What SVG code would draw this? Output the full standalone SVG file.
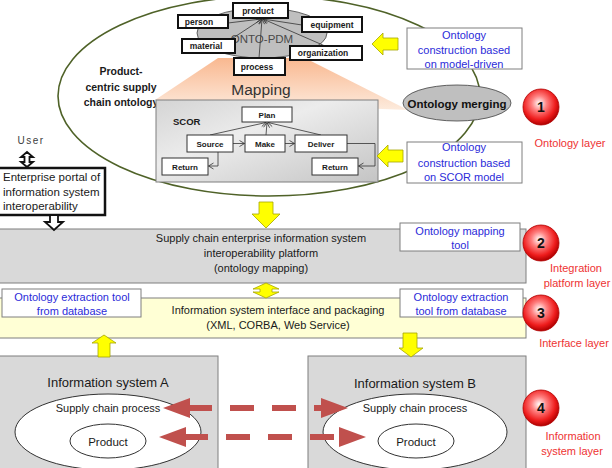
<svg xmlns="http://www.w3.org/2000/svg" width="612" height="468" viewBox="0 0 612 468">
<defs>
<style>
text{font-family:"Liberation Sans",Arial,sans-serif;}
.blk{font-size:11px;fill:#1a1a1a;text-anchor:middle;}
.blue{font-size:11px;fill:#2b2bd9;text-anchor:middle;}
.red{font-size:11px;fill:#ee3333;text-anchor:middle;}
.sb{font-size:8.5px;font-weight:bold;fill:#1a1a1a;text-anchor:middle;}
.sc{font-size:8px;font-weight:bold;fill:#1a1a1a;text-anchor:middle;}
.num{font-size:14px;font-weight:bold;fill:#111;text-anchor:middle;}
.tb{fill:#fff;stroke:#111;stroke-width:2;}
.sbox{fill:#fff;stroke:#333;stroke-width:1;}
.wbox{fill:#fff;stroke:#7f7f7f;stroke-width:1;}
.yel{fill:#ffff00;stroke:#a6a600;stroke-width:0.8;}
.hol{fill:#fff;stroke:#111;stroke-width:1.8;}
.ln{fill:none;stroke:#333;stroke-width:0.8;}
.rd{stroke:#c0504d;stroke-width:6;stroke-dasharray:24 18;fill:none;}
.rh{fill:#c0504d;}
.circ{fill:url(#rg);stroke:#b00000;stroke-width:0.8;}
</style>
<radialGradient id="rg" cx="0.45" cy="0.4" r="0.6">
<stop offset="0" stop-color="#ffffff"/>
<stop offset="0.35" stop-color="#ff8080"/>
<stop offset="0.75" stop-color="#ee1c1c"/>
<stop offset="1" stop-color="#b00000"/>
</radialGradient>
<linearGradient id="sg" x1="0" y1="0" x2="0" y2="1">
<stop offset="0" stop-color="#f9b890"/>
<stop offset="1" stop-color="#fdebdd"/>
</linearGradient>
<linearGradient id="gg" x1="0" y1="0" x2="1" y2="1">
<stop offset="0" stop-color="#d4d4d4"/>
<stop offset="0.4" stop-color="#ececec"/>
<stop offset="1" stop-color="#c4c4c4"/>
</linearGradient>
<marker id="oa" markerWidth="8" markerHeight="8" refX="6" refY="4" orient="auto" markerUnits="userSpaceOnUse">
<path d="M1,1 L6,4 L1,7" fill="none" stroke="#333" stroke-width="0.8"/>
</marker>
</defs>

<!-- big ontology ellipse -->
<g id="ontology-area">
<ellipse cx="269" cy="96" rx="211" ry="100" fill="#fff" stroke="#4f6228" stroke-width="1.6"/>
<polygon points="218,58 305,58 408,110 155,100" fill="url(#sg)"/>
<text x="261" y="95" style="font-size:15.5px;fill:#333;text-anchor:middle;">Mapping</text>
<text x="121" y="75" style="font-size:10.5px;font-weight:bold;fill:#1a1a1a;text-anchor:middle;">Product-</text>
<text x="121" y="91" style="font-size:10.5px;font-weight:bold;fill:#1a1a1a;text-anchor:middle;">centric supply</text>
<text x="121" y="106" style="font-size:10.5px;font-weight:bold;fill:#1a1a1a;text-anchor:middle;">chain ontology</text>
</g>

<!-- ONTO-PDM -->
<g id="onto-pdm">
<ellipse cx="262" cy="33" rx="65" ry="25" fill="#bfbfbf" stroke="#404040" stroke-width="0.8"/>
<text x="262" y="43" style="font-size:11.5px;fill:#4a4a4a;text-anchor:middle;">ONTO-PDM</text>
<g class="pdm-lines">
<line class="ln" x1="228" y1="23" x2="261" y2="19" marker-end="url(#oa)"/>
<line class="ln" x1="302" y1="25" x2="263" y2="19" marker-end="url(#oa)"/>
<line class="ln" x1="325" y1="46" x2="263" y2="19" marker-end="url(#oa)"/>
<line class="ln" x1="230" y1="40" x2="262" y2="19" marker-end="url(#oa)"/>
<line class="ln" x1="259" y1="58" x2="262" y2="19" marker-end="url(#oa)"/>
</g>
</g>
<g id="pdm-product"><rect class="tb" x="233" y="3" width="55" height="15"/><text class="sb" x="258" y="13.5">product</text></g>
<g id="pdm-person"><rect class="tb" x="178" y="15" width="50" height="13"/><text class="sb" x="199" y="24.5">person</text></g>
<g id="pdm-equipment"><rect class="tb" x="302" y="17" width="60" height="15"/><text class="sb" x="332" y="27.5">equipment</text></g>
<g id="pdm-material"><rect class="tb" x="182" y="39" width="53" height="14"/><text class="sb" x="206" y="49">material</text></g>
<g id="pdm-organization"><rect class="tb" x="290" y="46" width="72" height="14"/><text class="sb" x="323" y="56">organization</text></g>
<g id="pdm-process"><rect class="tb" x="234" y="58" width="51" height="17"/><text class="sb" x="257" y="69.5">process</text></g>

<!-- SCOR -->
<g id="scor">
<rect x="156" y="100" width="222" height="82" fill="url(#gg)" stroke="#7f7f7f" stroke-width="1"/>
<text x="173" y="125" style="font-size:9.5px;font-weight:bold;fill:#1a1a1a;">SCOR</text>
</g>
<g id="scor-lines">
<line class="ln" x1="210" y1="135" x2="266" y2="122.5" marker-end="url(#oa)"/>
<line class="ln" x1="266" y1="135" x2="267" y2="122.5" marker-end="url(#oa)"/>
<line class="ln" x1="321" y1="135" x2="268" y2="122.5" marker-end="url(#oa)"/>
<line class="ln" x1="233" y1="143.5" x2="244.5" y2="143.5" marker-end="url(#oa)"/>
<line class="ln" x1="285" y1="143.5" x2="294.5" y2="143.5" marker-end="url(#oa)"/>
<polyline class="ln" points="218,152 218,166 208.5,166" marker-end="url(#oa)"/>
<polyline class="ln" points="347,143.5 375,143.5 375,166 358.5,166" marker-end="url(#oa)"/>
</g>
<g id="scor-plan"><rect class="sbox" x="242" y="107" width="50" height="15"/><text class="sc" x="267" y="117.5">Plan</text></g>
<g id="scor-source"><rect class="sbox" x="187" y="135" width="46" height="17"/><text class="sc" x="210" y="146.5">Source</text></g>
<g id="scor-make"><rect class="sbox" x="245" y="135" width="40" height="17"/><text class="sc" x="265" y="146.5">Make</text></g>
<g id="scor-deliver"><rect class="sbox" x="295" y="135" width="52" height="17"/><text class="sc" x="321" y="146.5">Deliver</text></g>
<g id="scor-return1"><rect class="sbox" x="162" y="158" width="46" height="17"/><text class="sc" x="185" y="169.5">Return</text></g>
<g id="scor-return2"><rect class="sbox" x="312" y="158" width="46" height="17"/><text class="sc" x="335" y="169.5">Return</text></g>

<!-- right side ontology layer -->
<g id="model-driven"><rect class="wbox" x="407" y="28" width="115" height="41"/>
<text class="blue" x="464" y="38.5">Ontology</text><text class="blue" x="464" y="54">construction based</text><text class="blue" x="464" y="68">on model-driven</text></g>
<g id="scor-model"><rect class="wbox" x="407" y="142" width="115" height="41"/>
<text class="blue" x="464" y="151">Ontology</text><text class="blue" x="464" y="167">construction based</text><text class="blue" x="464" y="181">on SCOR model</text></g>
<g id="ontology-merging"><ellipse cx="457" cy="103" rx="54" ry="18" fill="#bfbfbf" stroke="#404040" stroke-width="0.8"/>
<text x="457" y="107.5" style="font-size:11.5px;font-weight:bold;fill:#111;text-anchor:middle;">Ontology merging</text></g>
<g id="layer1"><circle class="circ" cx="541" cy="107" r="18"/><text class="num" x="541" y="112">1</text>
<text class="red" x="570" y="147">Ontology layer</text></g>

<!-- user / portal -->
<g id="user"><text x="31" y="144" style="font-size:10px;fill:#404040;text-anchor:middle;letter-spacing:1.5px;">User</text></g>
<g id="portal"><rect x="-2" y="168" width="107" height="47" fill="#fff" stroke="#111" stroke-width="2.5"/>
<text x="3" y="181" style="font-size:11.5px;fill:#1a1a1a;">Enterprise portal of</text>
<text x="3" y="195.5" style="font-size:11.5px;fill:#1a1a1a;">information system</text>
<text x="3" y="210" style="font-size:11.5px;fill:#1a1a1a;">interoperability</text></g>

<!-- platform -->
<g id="platform"><rect x="-1" y="229" width="527" height="54" fill="#d9d9d9" stroke="#7f7f7f" stroke-width="1"/>
<text class="blk" x="261" y="242">Supply chain enterprise information system</text>
<text class="blk" x="261" y="257">interoperability platform</text>
<text class="blk" x="261" y="272">(ontology mapping)</text></g>
<g id="mapping-tool"><rect class="wbox" x="400" y="223" width="120" height="28"/>
<text class="blue" x="460" y="235">Ontology mapping</text><text class="blue" x="460" y="249">tool</text></g>
<g id="layer2"><circle class="circ" cx="541" cy="243" r="18"/><text class="num" x="541" y="248">2</text>
<text class="red" x="576" y="272">Integration</text><text class="red" x="577" y="287">platform layer</text></g>

<!-- interface -->
<g id="interface"><rect x="-1" y="298" width="527" height="40" fill="#ffffd5" stroke="#7f7f7f" stroke-width="1"/>
<text class="blk" x="278" y="314">Information system interface and packaging</text>
<text class="blk" x="278" y="329">(XML, CORBA, Web Service)</text></g>
<g id="extract-left"><rect class="wbox" x="2" y="289" width="139" height="28"/>
<text class="blue" x="72" y="301">Ontology extraction tool</text><text class="blue" x="72" y="315">from database</text></g>
<g id="extract-right"><rect class="wbox" x="400" y="289" width="123" height="28"/>
<text class="blue" x="461" y="301">Ontology extraction</text><text class="blue" x="461" y="315">tool from database</text></g>
<g id="layer3"><circle class="circ" cx="541" cy="313" r="18"/><text class="num" x="541" y="318">3</text>
<text class="red" x="574" y="347">Interface layer</text></g>

<!-- information systems -->
<g id="system-a"><rect x="-1" y="356" width="219" height="116" fill="#d9d9d9" stroke="#7f7f7f" stroke-width="1"/>
<text x="108" y="387" style="font-size:13px;fill:#1a1a1a;text-anchor:middle;">Information system A</text>
<ellipse cx="108" cy="432" rx="93" ry="38" fill="#fff" stroke="#333" stroke-width="1"/>
<text class="blk" x="108" y="412">Supply chain process</text>
<ellipse cx="108" cy="441" rx="38" ry="17" fill="#fff" stroke="#333" stroke-width="1"/>
<text class="blk" x="108" y="446" style="font-size:11.5px">Product</text></g>
<g id="system-b"><rect x="308" y="356" width="218" height="116" fill="#d9d9d9" stroke="#7f7f7f" stroke-width="1"/>
<text x="415" y="388" style="font-size:13px;fill:#1a1a1a;text-anchor:middle;">Information system B</text>
<ellipse cx="415" cy="432" rx="92" ry="38" fill="#fff" stroke="#333" stroke-width="1"/>
<text class="blk" x="415" y="412">Supply chain process</text>
<ellipse cx="416" cy="441" rx="38" ry="17" fill="#fff" stroke="#333" stroke-width="1"/>
<text class="blk" x="416" y="446" style="font-size:11.5px">Product</text></g>
<g id="layer4"><circle class="circ" cx="541" cy="408" r="18"/><text class="num" x="541" y="413">4</text>
<text class="red" x="573" y="440">Information</text><text class="red" x="572" y="455">system layer</text></g>

<!-- connectors -->
<g id="connectors">
<polygon class="yel" points="372,44 383,33 383,38 398,38 398,50 383,50 383,55"/>
<polygon class="yel" points="377,156 388,145 388,150 403,150 403,162 388,162 388,167"/>
<polygon class="yel" points="259,202 273,202 273,214 280,214 266,228 252,214 259,214"/>
<polygon class="yel" points="266,283 279,289 272,289 272,292 279,292 266,298 253,292 260,292 260,289 253,289"/>
<polygon class="yel" points="104,335 116,343 110,343 110,357 98,357 98,343 92,343"/>
<polygon class="yel" points="403,333 417,333 417,348 423,348 411,357 399,348 403,348"/>
<polygon class="hol" points="27,152 33,157 29.5,157 29.5,162 33,162 27,167 21,162 24.5,162 24.5,157 21,157"/>
<polygon class="hol" points="50,215 58,215 58,222 63,222 54,230 45,222 50,222"/>
<line class="rd" x1="188" y1="408" x2="322" y2="408"/>
<polygon class="rh" points="163,408 190,398 190,418"/>
<polygon class="rh" points="348,408 321,398 321,418"/>
<line class="rd" x1="184" y1="437" x2="342" y2="437"/>
<polygon class="rh" points="159,437 186,427 186,447"/>
<polygon class="rh" points="366,437 339,427 339,447"/>
</g>
</svg>
